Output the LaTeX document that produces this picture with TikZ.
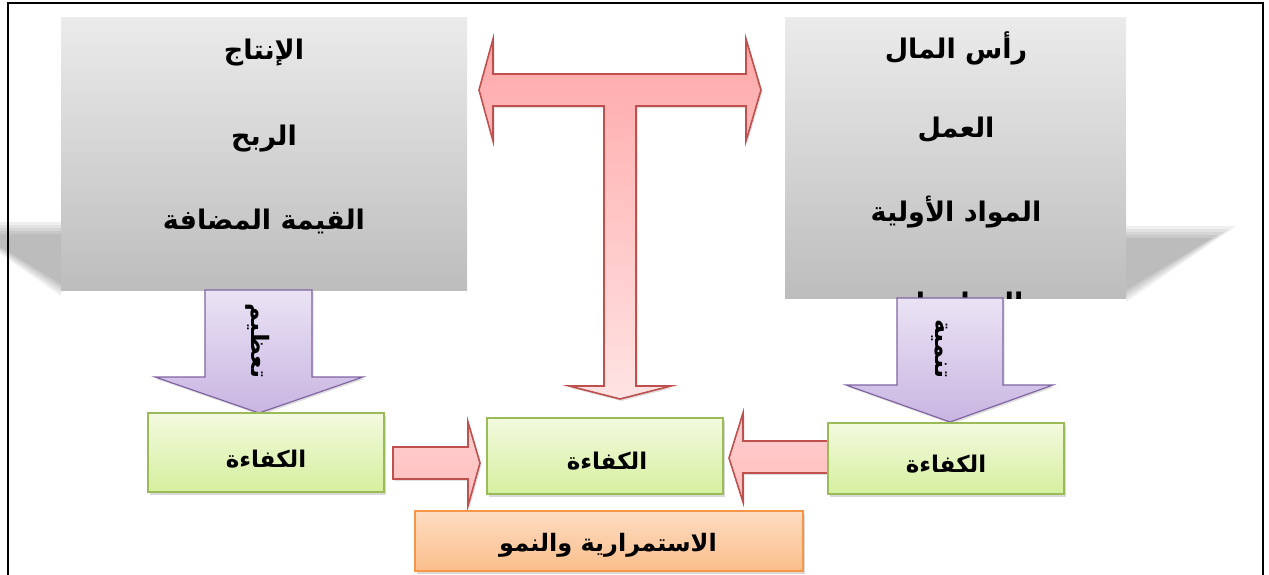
\documentclass[tikz,border=0pt]{standalone}
\usepackage{fontspec}
\TeXXeTstate=1
\newfontfamily\arabicfont[Script=Arabic]{DejaVu Sans}
\usetikzlibrary{shadows,calc}
\newcommand\arf[1]{\arabicfont\bfseries\fontsize{#1}{#1}\selectfont}
\definecolor{grayT}{HTML}{EBEBEB}
\definecolor{grayB}{HTML}{BDBDBD}
\definecolor{redL}{HTML}{C0504D}
\definecolor{redT}{HTML}{FFA8A8}
\definecolor{redB}{HTML}{FFE3E3}
\definecolor{pinkT}{HTML}{FFCFCF}
\definecolor{pinkB}{HTML}{FFBDBD}
\definecolor{purL}{HTML}{8064A2}
\definecolor{purT}{HTML}{EAE3F4}
\definecolor{purB}{HTML}{C9B5E2}
\definecolor{grnL}{HTML}{9BBB59}
\definecolor{grnT}{HTML}{F3FADF}
\definecolor{grnB}{HTML}{D6EF9E}
\definecolor{orL}{HTML}{F79646}
\definecolor{orT}{HTML}{FDDCC2}
\definecolor{orB}{HTML}{FBBE8B}
\tikzset{
  graybox/.style={top color=grayT, bottom color=grayB, inner sep=0pt, outer sep=0pt},
  redarrow/.style={draw=redL, line width=1.6pt, line join=miter, top color=redT, bottom color=redB,
     drop shadow={opacity=0.25, shadow xshift=1.5pt, shadow yshift=-2pt}},
  pinkarrow/.style={draw=redL, line width=1.6pt, top color=pinkT, bottom color=pinkB,
     drop shadow={opacity=0.25, shadow xshift=1.5pt, shadow yshift=-2pt}},
  purarrow/.style={draw=purL, line width=1.2pt, top color=purT, bottom color=purB,
     drop shadow={opacity=0.25, shadow xshift=1.5pt, shadow yshift=-2pt}},
  grnbox/.style={draw=grnL, line width=1.6pt, top color=grnT, bottom color=grnB, inner sep=0pt, outer sep=0pt,
     drop shadow={opacity=0.3, shadow xshift=2pt, shadow yshift=-2.5pt}},
  orbox/.style={draw=orL, line width=1.6pt, top color=orT, bottom color=orB, inner sep=0pt, outer sep=0pt,
     drop shadow={opacity=0.3, shadow xshift=2pt, shadow yshift=-2.5pt}},
  lbl/.style={inner sep=0pt, text=black},
  psh/.style={fill=black, opacity=0.06}
}
\begin{document}
\begin{tikzpicture}[x=1pt,y=-1pt]
\useasboundingbox (0,0) rectangle (1269,574);
\clip (0,0) rectangle (1269,574);
% perspective shadows (soft, layered)
\foreach \d in {0,3,6,9,12} {
  \fill[psh] (61,222+\d) -- (-45+2*\d,222+\d) -- (61,296-\d) -- cycle;
  \fill[psh] (1126,226+\d) -- (1236-2*\d,226+\d) -- (1126,302-\d) -- cycle;
}
% gray boxes
\node[graybox, minimum width=406, minimum height=273] (L) at (264,153.5) {};
\node[graybox, minimum width=341, minimum height=281] (R) at (955.5,157.5) {};
\node[lbl] (l1) at (264,53) {\arf{27}\beginR الإنتاج\endR};
\node[lbl] (l2) at (264,139) {\arf{27}\beginR الربح\endR};
\node[lbl] (l3) at (264,221) {\arf{27}\beginR القيمة المضافة\endR};
\begin{scope}
\clip (R.north west) rectangle (R.south east);
\node[lbl] (r1) at (956,48) {\arf{27}\beginR رأس المال\endR};
\node[lbl] (r2) at (956,130) {\arf{27}\beginR العمل\endR};
\node[lbl] (r3) at (956,212) {\arf{27}\beginR المواد الأولية\endR};
\node[lbl] (r4) at (956,306) {\arf{27}\beginR المعلومات\endR};
\end{scope}
% T arrow
\path[redarrow] (479,90) -- (493,39) -- (493,74) -- (746,74) -- (746,39) -- (761,90) -- (746,141) -- (746,106)
  -- (636,106) -- (636,386) -- (671,386) -- (620,399) -- (569,386) -- (604,386) -- (604,106)
  -- (493,106) -- (493,141) -- cycle;
% purple arrows
\path[purarrow] (205,290) -- (312,290) -- (312,377) -- (363,377) -- (259,413) -- (155,377) -- (205,377) -- cycle;
\path[purarrow] (897,298) -- (1003,298) -- (1003,385) -- (1053,385) -- (950,422) -- (846,385) -- (897,385) -- cycle;
\node[lbl, rotate=-90] (t1) at (258,341) {\arf{24}\beginR تعظيم\endR};
\node[lbl, rotate=-90] (t2) at (940,349) {\arf{24}\beginR تنمية\endR};
% small red arrows
\path[pinkarrow] (393,447) -- (468,447) -- (468,422) -- (480,463) -- (468,506) -- (468,479) -- (393,479) -- cycle;
\path[pinkarrow] (840,441) -- (743,441) -- (743,413) -- (729,458) -- (743,502) -- (743,473) -- (840,473) -- cycle;
% green boxes
\node[grnbox, minimum width=236, minimum height=79] (g1) at (266,452.5) {};
\node[grnbox, minimum width=236, minimum height=76] (g2) at (605,456) {};
\node[grnbox, minimum width=236, minimum height=71] (g3) at (946,458.5) {};
\node[lbl] (k1) at (266,459) {\arf{23}\beginR الكفاءة\endR};
\node[lbl] (k2) at (607,461) {\arf{23}\beginR الكفاءة\endR};
\node[lbl] (k3) at (946,464) {\arf{23}\beginR الكفاءة\endR};
% orange box
\node[orbox, minimum width=388, minimum height=60] (o) at (609,541) {};
\node[lbl] (ot) at (608,545) {\arf{24}\beginR الاستمرارية والنمو\endR};
% frame
\draw[line width=2.5pt, black] (8,600) -- (8,3) -- (1263,3) -- (1263,600);
\end{tikzpicture}
\end{document}
